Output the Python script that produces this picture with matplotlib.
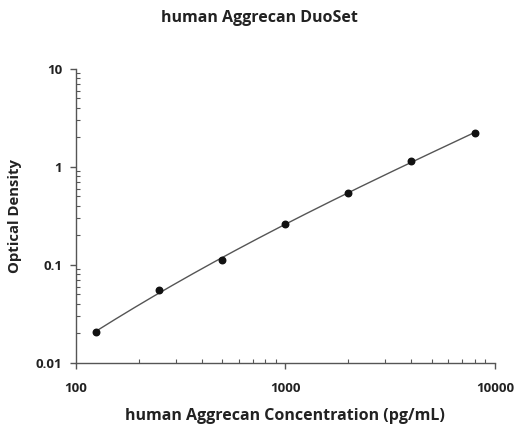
import numpy as np
import matplotlib
matplotlib.use("Agg")
import matplotlib.pyplot as plt
from matplotlib.ticker import LogLocator, FixedLocator, NullFormatter, FixedFormatter

plt.rcParams['font.family'] = ['Open Sans', 'DejaVu Sans']

concentration = [125, 250, 500, 1000, 2000, 4000, 8000]
optical_density = [0.0207, 0.0556, 0.1125, 0.262, 0.543, 1.15, 2.22]
x_ticks = [100, 1000, 10000]
x_tick_labels = ["100", "1000", "10000"]
y_ticks = [0.01, 0.1, 1, 10]
y_tick_labels = ["0.01", "0.1", "1", "10"]

fig = plt.figure(figsize=(5.19, 4.24), dpi=100)
ax = fig.add_axes([0.1464, 0.1439, 0.807, 0.6934])

lx = np.log10(concentration)
ly = np.log10(optical_density)
coef = np.polyfit(lx, ly, 3)
xs = np.linspace(lx[0], lx[-1], 200)
ax.plot(10**xs, 10**np.polyval(coef, xs), color='#555555', lw=1.0, zorder=2)
ax.scatter(concentration, optical_density, s=22, color='#111111', zorder=3)

ax.set_xscale('log')
ax.set_yscale('log')
ax.set_xlim(100, 10000)
ax.set_ylim(0.01, 10)

for s in ['top', 'right']:
    ax.spines[s].set_visible(False)
for s in ['left', 'bottom']:
    ax.spines[s].set_color('#555555')
    ax.spines[s].set_linewidth(1.0)

ax.xaxis.set_major_locator(FixedLocator(x_ticks))
ax.xaxis.set_major_formatter(FixedFormatter(x_tick_labels))
ax.yaxis.set_major_locator(FixedLocator(y_ticks))
ax.yaxis.set_major_formatter(FixedFormatter(y_tick_labels))
ax.xaxis.set_minor_locator(LogLocator(base=10, subs=np.arange(2, 10)))
ax.yaxis.set_minor_locator(LogLocator(base=10, subs=np.arange(2, 10)))
ax.xaxis.set_minor_formatter(NullFormatter())
ax.yaxis.set_minor_formatter(NullFormatter())

ax.tick_params(which='major', direction='out', length=4, width=1, color='#555555',
               labelsize=9.5)
ax.tick_params(axis='x', which='major', pad=10)
ax.tick_params(axis='y', which='major', pad=6)
ax.tick_params(which='minor', direction='in', length=3, width=0.8, color='#555555')
for lab in ax.get_xticklabels() + ax.get_yticklabels():
    lab.set_fontweight('bold')
    lab.set_color('#222222')

ax.set_xlabel('human Aggrecan Concentration (pg/mL)', fontsize=11.5, fontweight='bold',
              color='#222222', labelpad=9)
ax.set_ylabel('Optical Density', fontsize=10.7, fontweight='bold', color='#222222',
              labelpad=10)
fig.text(0.5, 0.958, 'human Aggrecan DuoSet', ha='center', va='center', fontsize=11.5,
         fontweight='bold', color='#222222')

fig.savefig('out.png', dpi=100, facecolor='white')
